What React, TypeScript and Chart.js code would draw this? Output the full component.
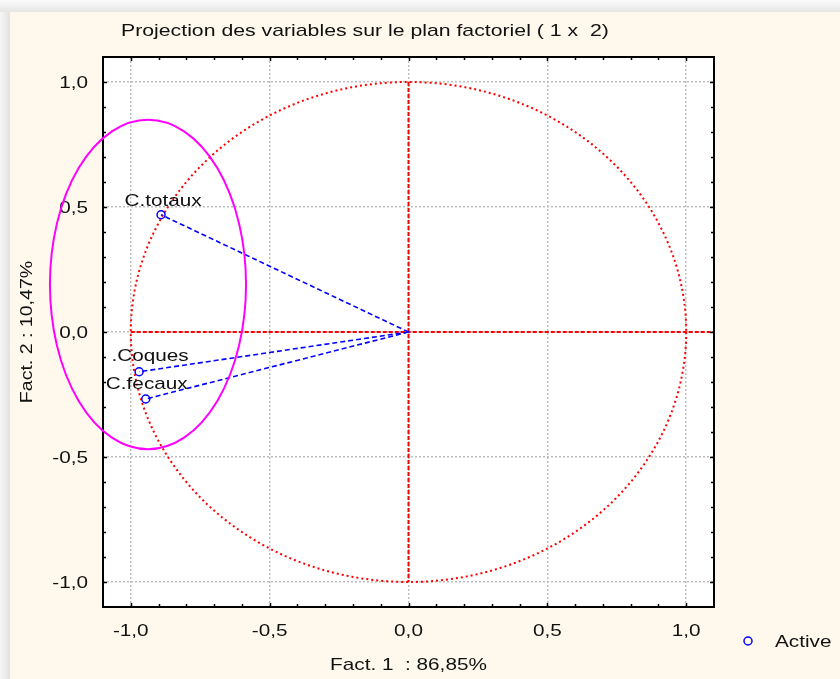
import React, { useEffect, useRef } from "react";
import { Chart, registerables } from "chart.js";

Chart.register(...registerables);

// ---- data ----
const variables = ["C.totaux", ".Coques", "C.fecaux"];
const fact1 = [-0.891, -0.97, -0.946];
const fact2 = [0.469, -0.159, -0.268];
const seriesName = "Active";
const titleText = "Projection des variables sur le plan factoriel ( 1 x  2)";
const xTitle = "Fact. 1  : 86,85%";
const yTitle = "Fact. 2 : 10,47%";
const axisMin = -1.1;
const axisMax = 1.1;
const minorStep = 0.1;
const majorStep = 0.5;
// highlighted group (ellipse) in data units: centre x, centre y, radius x, radius y
const groupEllipse = [-0.938, 0.19, 0.353, 0.659];

// ---- style / layout ----
const FONT = '17px "Liberation Sans", Arial, sans-serif';
const STRETCH = 1.22;
const labelOffsets = [
  [2, -9],
  [11, -11],
  [1, -10],
];

function drawText(
  ctx: CanvasRenderingContext2D,
  s: string,
  x: number,
  y: number,
  align: CanvasTextAlign,
  baseline: CanvasTextBaseline = "alphabetic",
  stretch = STRETCH,
  rotate = 0
) {
  ctx.save();
  ctx.translate(x, y);
  if (rotate) ctx.rotate(rotate);
  ctx.scale(stretch, 1);
  ctx.font = FONT;
  ctx.fillStyle = "#111";
  ctx.textAlign = align;
  ctx.textBaseline = baseline;
  ctx.fillText(s, 0, 0);
  ctx.restore();
}

const isMajor = (v: number) => Math.abs(v / majorStep - Math.round(v / majorStep)) < 1e-6;
const fmt = (v: number) => {
  let r = Math.round(v * 10) / 10;
  if (Math.abs(r) < 1e-9) r = 0;
  return r.toFixed(1).replace(".", ",");
};

const decorPlugin = {
  id: "decor",
  beforeDraw(chart: any) {
    const { ctx, width, height, chartArea: a } = chart;
    ctx.save();
    ctx.fillStyle = "#efefef";
    ctx.fillRect(0, 0, width, height);
    let g = ctx.createLinearGradient(0, 0, 0, 12);
    g.addColorStop(0, "#fbfbfb");
    g.addColorStop(1, "#e6e6e6");
    ctx.fillStyle = g;
    ctx.fillRect(0, 0, width, 12);
    g = ctx.createLinearGradient(0, 0, 10, 0);
    g.addColorStop(0, "#f6f6f6");
    g.addColorStop(1, "#e2e2e2");
    ctx.fillStyle = g;
    ctx.fillRect(0, 12, 10, height);
    ctx.fillStyle = "#fff9ed";
    ctx.fillRect(10, 12, width - 10, height - 12);
    ctx.fillStyle = "#ffffff";
    ctx.fillRect(a.left, a.top, a.right - a.left, a.bottom - a.top);
    ctx.restore();
  },
  beforeDatasetsDraw(chart: any) {
    const { ctx, chartArea: a, scales } = chart;
    const xs = scales.x;
    const ys = scales.y;
    const x0 = xs.getPixelForValue(0);
    const y0 = ys.getPixelForValue(0);
    ctx.save();
    ctx.beginPath();
    ctx.rect(a.left, a.top, a.right - a.left, a.bottom - a.top);
    ctx.clip();
    // unit circle
    ctx.strokeStyle = "#ff0000";
    ctx.lineWidth = 2;
    ctx.setLineDash([2, 3]);
    ctx.beginPath();
    ctx.ellipse(
      x0,
      y0,
      Math.abs(xs.getPixelForValue(1) - x0),
      Math.abs(ys.getPixelForValue(1) - y0),
      0,
      0,
      Math.PI * 2
    );
    ctx.stroke();
    // axes through origin
    ctx.setLineDash([4, 2]);
    ctx.beginPath();
    ctx.moveTo(xs.getPixelForValue(-1), y0);
    ctx.lineTo(xs.getPixelForValue(axisMax), y0);
    ctx.moveTo(x0, ys.getPixelForValue(1));
    ctx.lineTo(x0, ys.getPixelForValue(-1));
    ctx.stroke();
    ctx.restore();
  },
  afterDatasetsDraw(chart: any) {
    const { ctx, chartArea: a, scales } = chart;
    const xs = scales.x;
    const ys = scales.y;
    ctx.save();
    // frame
    ctx.strokeStyle = "#000";
    ctx.lineWidth = 2;
    ctx.setLineDash([]);
    ctx.strokeRect(a.left, a.top, a.right - a.left, a.bottom - a.top);
    // inward tick marks on all four sides
    ctx.lineWidth = 1.5;
    ctx.beginPath();
    xs.ticks.forEach((t: any) => {
      const v = t.value;
      if (v <= axisMin + 1e-6 || v >= axisMax - 1e-6) return;
      const p = Math.round(xs.getPixelForValue(v)) + 0.5;
      const len = isMajor(v) ? 4 : 3;
      ctx.moveTo(p, a.bottom);
      ctx.lineTo(p, a.bottom - len);
      ctx.moveTo(p, a.top);
      ctx.lineTo(p, a.top + len);
    });
    ys.ticks.forEach((t: any) => {
      const v = t.value;
      if (v <= axisMin + 1e-6 || v >= axisMax - 1e-6) return;
      const p = Math.round(ys.getPixelForValue(v)) + 0.5;
      const len = isMajor(v) ? 4 : 3;
      ctx.moveTo(a.left, p);
      ctx.lineTo(a.left + len, p);
      ctx.moveTo(a.right, p);
      ctx.lineTo(a.right - len, p);
    });
    ctx.stroke();
    // tick labels
    xs.ticks.forEach((t: any) => {
      if (!isMajor(t.value)) return;
      drawText(ctx, fmt(t.value), xs.getPixelForValue(t.value), a.bottom + 29, "center");
    });
    ys.ticks.forEach((t: any) => {
      if (!isMajor(t.value)) return;
      drawText(ctx, fmt(t.value), a.left - 15, ys.getPixelForValue(t.value) + 6, "right");
    });
    // titles
    drawText(ctx, titleText, 121, 36, "left", "alphabetic", 1.25);
    drawText(ctx, xTitle, xs.getPixelForValue(0), 670, "center");
    drawText(ctx, yTitle, 27, ys.getPixelForValue(0), "center", "middle", 1.15, -Math.PI / 2);
    // point labels
    variables.forEach((name, i) => {
      const px = xs.getPixelForValue(fact1[i]);
      const py = ys.getPixelForValue(fact2[i]);
      drawText(ctx, name, px + labelOffsets[i][0], py + labelOffsets[i][1], "center");
    });
    // highlight ellipse
    const [cx, cy, rx, ry] = groupEllipse;
    const ecx = xs.getPixelForValue(cx);
    const ecy = ys.getPixelForValue(cy);
    ctx.strokeStyle = "#ff00ff";
    ctx.lineWidth = 2;
    ctx.beginPath();
    ctx.ellipse(
      ecx,
      ecy,
      Math.abs(xs.getPixelForValue(cx + rx) - ecx),
      Math.abs(ys.getPixelForValue(cy + ry) - ecy),
      0,
      0,
      Math.PI * 2
    );
    ctx.stroke();
    // legend
    ctx.strokeStyle = "#0000ff";
    ctx.lineWidth = 1.5;
    ctx.beginPath();
    ctx.arc(748, 641, 4, 0, Math.PI * 2);
    ctx.stroke();
    drawText(ctx, seriesName, 775, 647, "left");
    ctx.restore();
  },
};

export default function App() {
  const ref = useRef<HTMLCanvasElement>(null);
  useEffect(() => {
    if (!ref.current) return;
    const vectors = fact1.map((x, i) => ({
      type: "scatter" as const,
      label: variables[i],
      data: [
        { x: 0, y: 0 },
        { x, y: fact2[i] },
      ],
      showLine: true,
      borderColor: "#0000ff",
      borderWidth: 1.6,
      borderDash: [5, 3],
      pointRadius: 0,
      fill: false,
    }));
    const chart = new Chart(ref.current, {
      type: "scatter",
      data: {
        datasets: [
          ...vectors,
          {
            type: "scatter",
            label: seriesName,
            data: fact1.map((x, i) => ({ x, y: fact2[i] })),
            pointStyle: "circle",
            pointRadius: 4,
            pointBorderWidth: 1.5,
            borderColor: "#0000ff",
            backgroundColor: "rgba(0,0,0,0)",
            showLine: false,
          },
        ] as any,
      },
      options: {
        responsive: false,
        animation: false,
        layout: { padding: { top: 57, right: 126, left: 0, bottom: 0 } },
        plugins: {
          legend: { display: false },
          tooltip: { enabled: false },
          title: { display: false },
        },
        scales: {
          x: {
            type: "linear",
            min: axisMin,
            max: axisMax,
            ticks: { stepSize: minorStep, display: false },
            grid: {
              drawTicks: false,
              lineWidth: 1.5,
              color: (c: any) => (c.tick && isMajor(c.tick.value) ? "#bdbdbd" : "rgba(0,0,0,0)"),
            },
            border: { display: false, dash: [2, 2] },
            afterFit: (s: any) => {
              s.height = 72;
            },
          },
          y: {
            type: "linear",
            min: axisMin,
            max: axisMax,
            ticks: { stepSize: minorStep, display: false },
            grid: {
              drawTicks: false,
              lineWidth: 1.5,
              color: (c: any) => (c.tick && isMajor(c.tick.value) ? "#bdbdbd" : "rgba(0,0,0,0)"),
            },
            border: { display: false, dash: [2, 2] },
            afterFit: (s: any) => {
              s.width = 103;
            },
          },
        },
      } as any,
      plugins: [decorPlugin],
    });
    return () => chart.destroy();
  }, []);
  return (
    <canvas
      ref={ref}
      width={840}
      height={679}
      style={{ position: "fixed", left: 0, top: 0, display: "block" }}
    />
  );
}
